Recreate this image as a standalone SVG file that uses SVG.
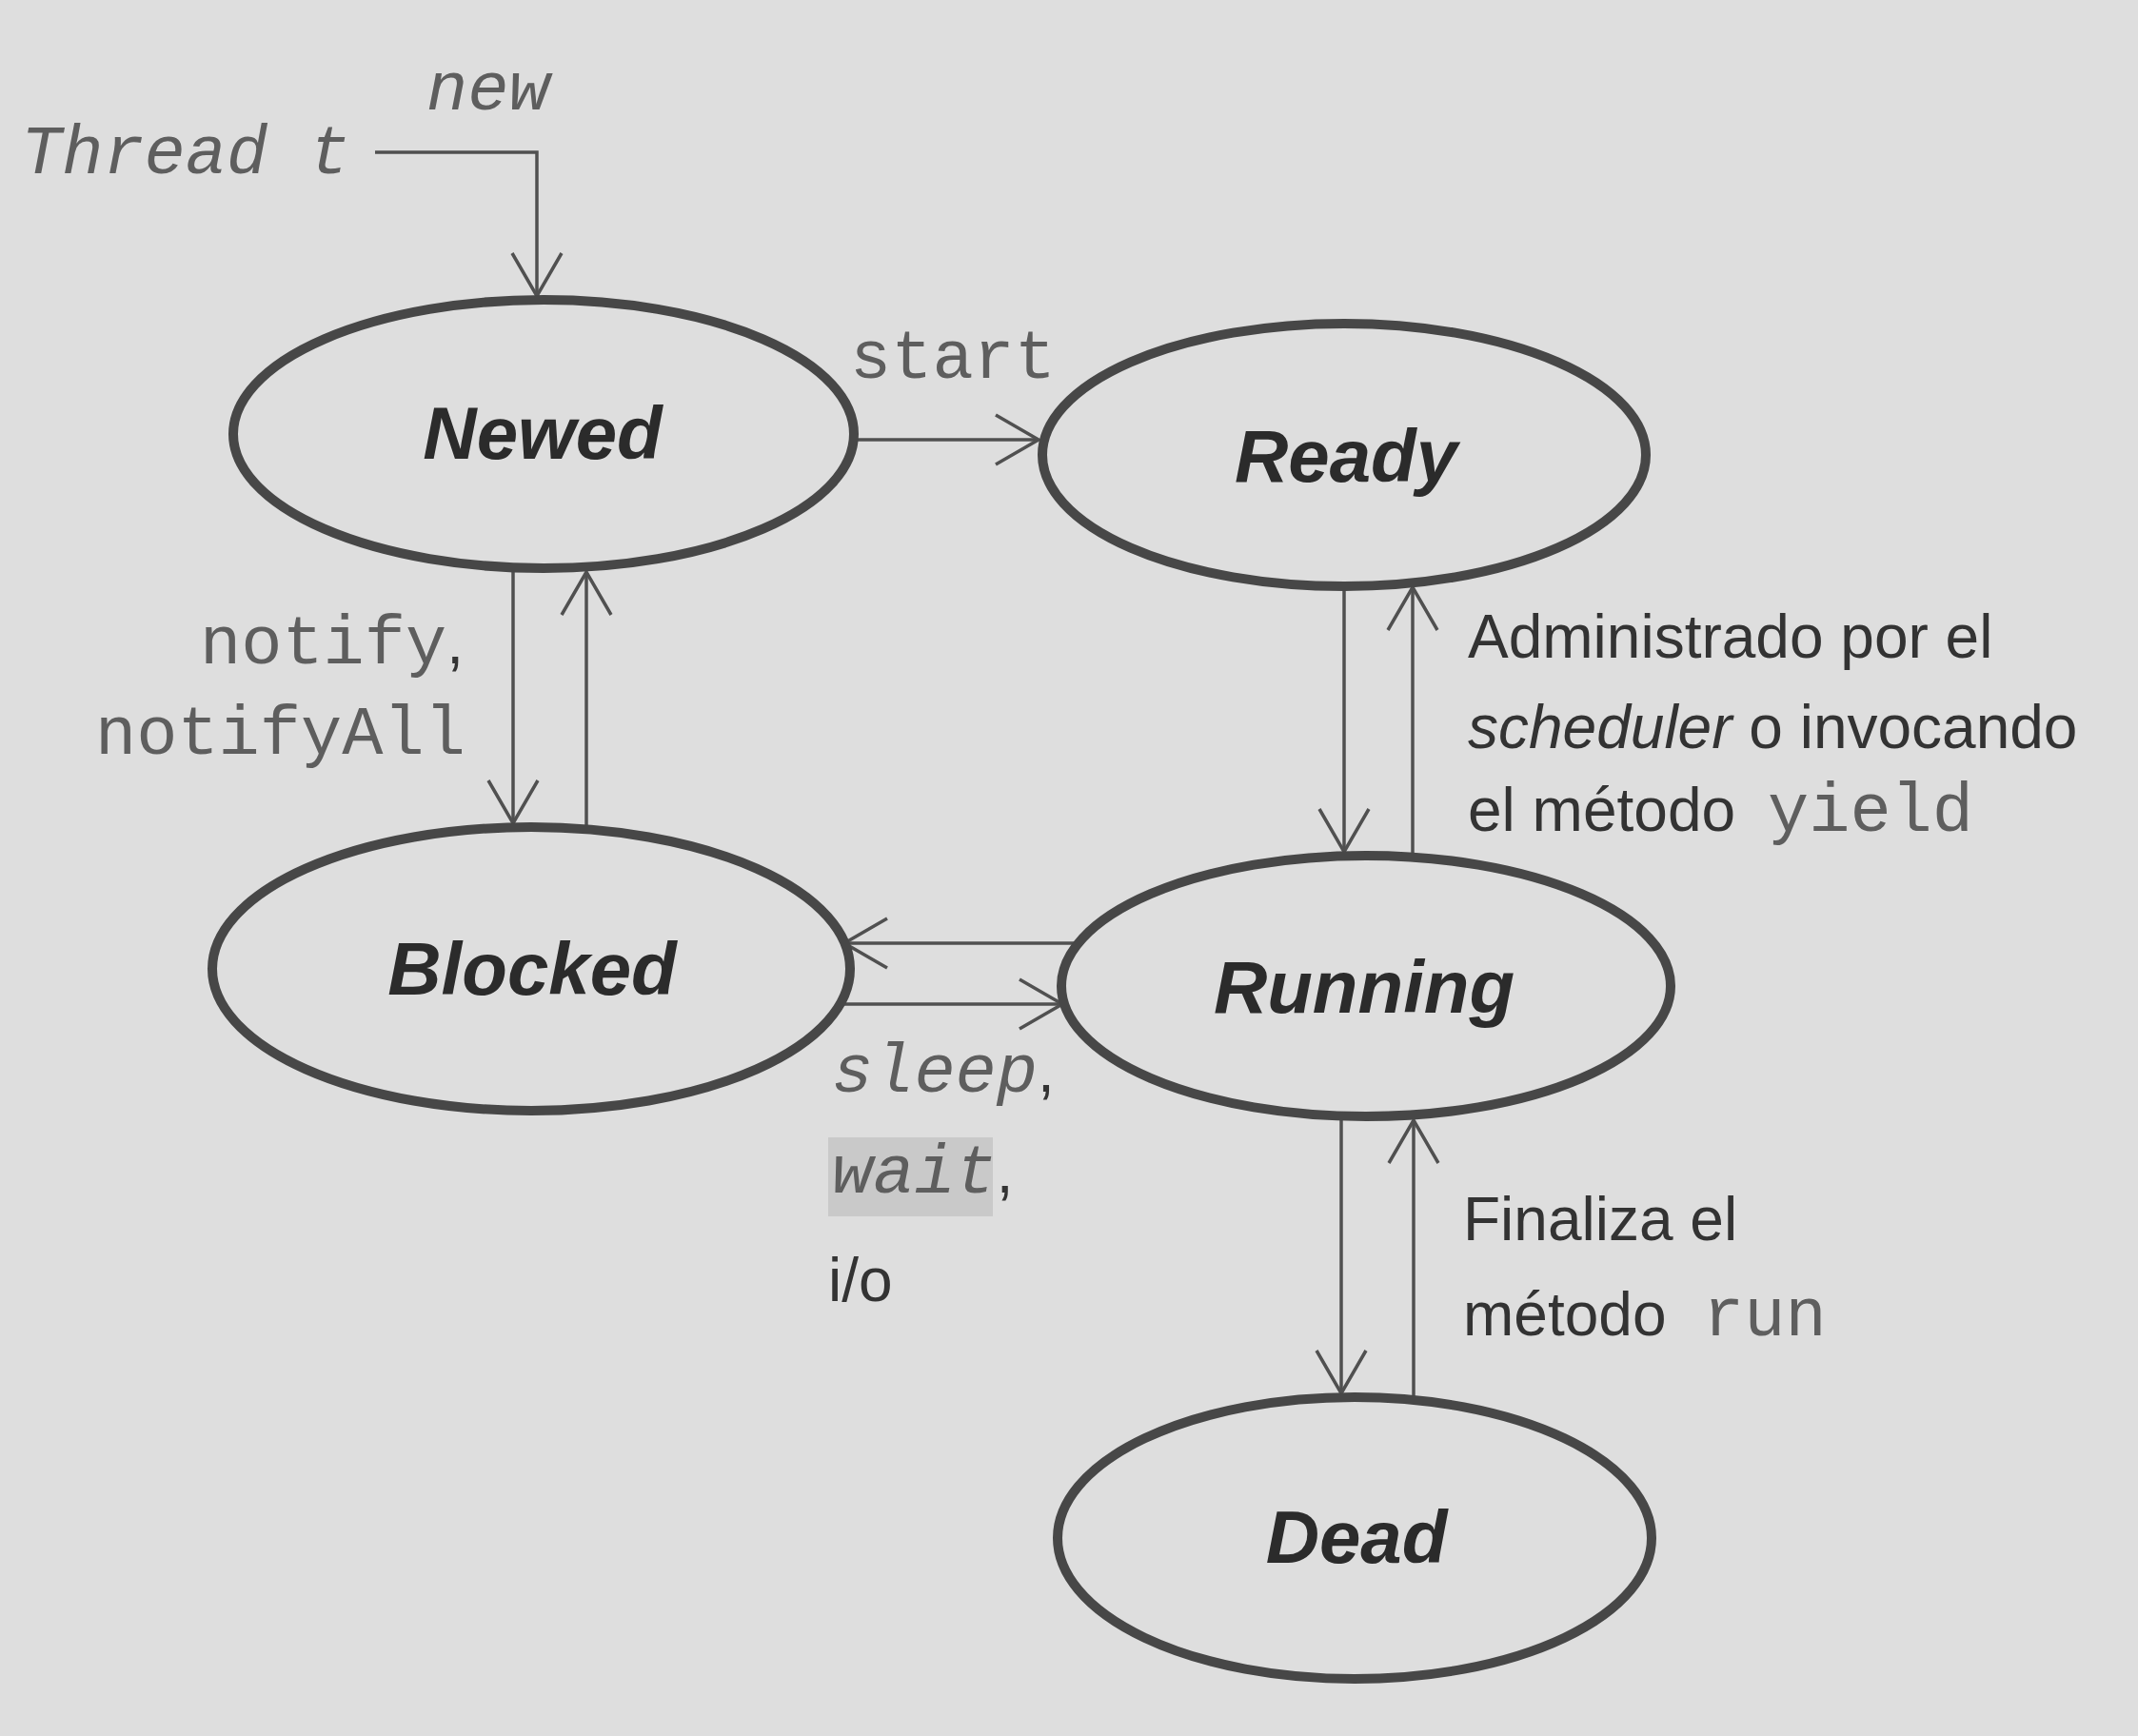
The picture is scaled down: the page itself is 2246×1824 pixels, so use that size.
<svg xmlns="http://www.w3.org/2000/svg" width="2246" height="1824" viewBox="0 0 2246 1824">
<style>
.bg{fill:#dedede}
.state{fill:#dedede;stroke:#474747;stroke-width:10}
.lbl{font-family:"Liberation Sans",Arial,sans-serif;font-weight:bold;font-style:italic;font-size:78px;fill:#2b2b2b;text-anchor:middle}
.edge{fill:none;stroke:#505050;stroke-width:3.5}
.mono{font-family:"Liberation Mono","Courier New",monospace;font-size:72px;fill:#5e5e5e}
.it{font-style:italic}
.sans{font-family:"Liberation Sans",Arial,sans-serif;font-size:64px;fill:#333}
</style>
<defs>
<marker id="arr" markerUnits="userSpaceOnUse" viewBox="-50 -30 54 60" markerWidth="54" markerHeight="60" refX="0" refY="0" orient="auto">
<path d="M-45,-26 L0,0 L-45,26" fill="none" stroke="#505050" stroke-width="3.5"/>
</marker>
</defs>
<rect class="bg" x="0" y="0" width="2246" height="1824"/>
<g id="connectors">
<path class="edge" d="M394,160 H564 V311" marker-end="url(#arr)"/>
<path class="edge" d="M899,462 H1091" marker-end="url(#arr)"/>
<path class="edge" d="M539,597 V865" marker-end="url(#arr)"/>
<path class="edge" d="M616,867 V601" marker-end="url(#arr)"/>
<path class="edge" d="M1412,616 V895" marker-end="url(#arr)"/>
<path class="edge" d="M1484,897 V617" marker-end="url(#arr)"/>
<path class="edge" d="M1135,991 H887" marker-end="url(#arr)"/>
<path class="edge" d="M887,1055 H1116" marker-end="url(#arr)"/>
<path class="edge" d="M1409,1173 V1464" marker-end="url(#arr)"/>
<path class="edge" d="M1485,1468 V1177" marker-end="url(#arr)"/>
</g>
<g id="newed">
<ellipse class="state" cx="571" cy="456" rx="326" ry="141"/>
<text class="lbl" x="570" y="482">Newed</text>
</g>
<g id="ready">
<ellipse class="state" cx="1412" cy="478" rx="317" ry="138"/>
<text class="lbl" x="1414" y="506">Ready</text>
</g>
<g id="blocked">
<ellipse class="state" cx="558" cy="1018" rx="335" ry="149"/>
<text class="lbl" x="559" y="1045">Blocked</text>
</g>
<g id="running">
<ellipse class="state" cx="1435" cy="1036" rx="320" ry="137"/>
<text class="lbl" x="1433" y="1064">Running</text>
</g>
<g id="dead">
<ellipse class="state" cx="1423" cy="1616" rx="312" ry="148"/>
<text class="lbl" x="1425" y="1642">Dead</text>
</g>
<g id="labels">
<text class="mono it" x="448" y="115">new</text>
<text class="mono it" x="22" y="182">Thread t</text>
<text class="mono" x="893" y="397">start</text>
<text class="mono" x="210" y="697">notify<tspan class="sans" font-size="64">,</tspan></text>
<text class="mono" x="100" y="792">notifyAll</text>
<text class="sans" x="1542" y="691">Administrado por el</text>
<text class="sans" x="1542" y="786"><tspan font-style="italic">scheduler</tspan> o invocando</text>
<text class="sans" x="1542" y="873">el método</text>
<text class="mono" x="1857" y="873">yield</text>
<text class="sans" x="1537" y="1303">Finaliza el</text>
<text class="sans" x="1537" y="1403">método</text>
<text class="mono" x="1789" y="1403">run</text>
<rect x="870" y="1195" width="173" height="83" fill="#c9c9c9"/>
<text class="mono it" x="874" y="1147">sleep<tspan class="sans" font-style="normal">,</tspan></text>
<text class="mono it" x="874" y="1253">wait<tspan class="sans" font-style="normal">,</tspan></text>
<text class="sans" x="870" y="1367" font-size="68">i/o</text>
</g>
</svg>
